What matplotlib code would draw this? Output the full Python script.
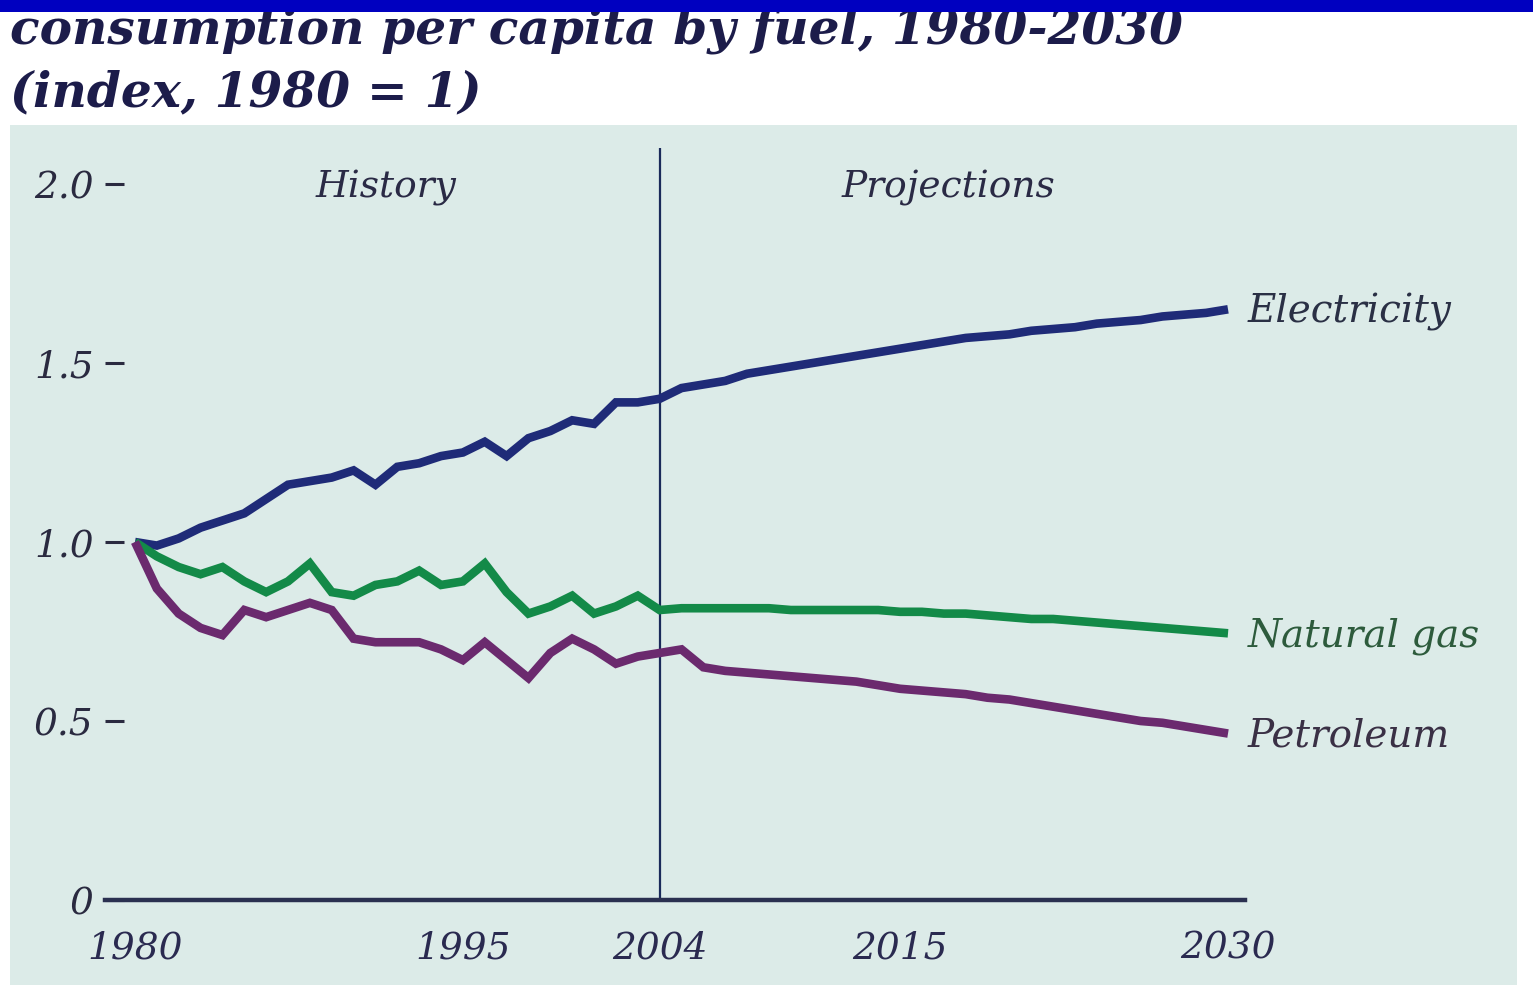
import matplotlib
matplotlib.use("Agg")
import matplotlib.pyplot as plt
from matplotlib.patches import Rectangle

# data: index, 1980 = 1
years = list(range(1980, 2031))

electricity = [1.00, 0.99, 1.01, 1.04, 1.06, 1.08, 1.12, 1.16, 1.17, 1.18,
               1.20, 1.16, 1.21, 1.22, 1.24, 1.25, 1.28, 1.24, 1.29, 1.31,
               1.34, 1.33, 1.39, 1.39, 1.40,
               1.43, 1.44, 1.45, 1.47, 1.48, 1.49, 1.50, 1.51, 1.52, 1.53,
               1.54, 1.55, 1.56, 1.57, 1.575, 1.58, 1.59, 1.595, 1.60, 1.61,
               1.615, 1.62, 1.63, 1.635, 1.64, 1.65]

natural_gas = [1.00, 0.96, 0.93, 0.91, 0.93, 0.89, 0.86, 0.89, 0.94, 0.86,
               0.85, 0.88, 0.89, 0.92, 0.88, 0.89, 0.94, 0.86, 0.80, 0.82,
               0.85, 0.80, 0.82, 0.85, 0.81,
               0.815, 0.815, 0.815, 0.815, 0.815, 0.81, 0.81, 0.81, 0.81, 0.81,
               0.805, 0.805, 0.80, 0.80, 0.795, 0.79, 0.785, 0.785, 0.78, 0.775,
               0.77, 0.765, 0.76, 0.755, 0.75, 0.745]

petroleum = [1.00, 0.87, 0.80, 0.76, 0.74, 0.81, 0.79, 0.81, 0.83, 0.81,
             0.73, 0.72, 0.72, 0.72, 0.70, 0.67, 0.72, 0.67, 0.62, 0.69,
             0.73, 0.70, 0.66, 0.68, 0.69,
             0.70, 0.65, 0.64, 0.635, 0.63, 0.625, 0.62, 0.615, 0.61, 0.60,
             0.59, 0.585, 0.58, 0.575, 0.565, 0.56, 0.55, 0.54, 0.53, 0.52,
             0.51, 0.50, 0.495, 0.485, 0.475, 0.465]

series = [("Electricity", electricity, "#1f2b78", "#2a3045"),
          ("Natural gas", natural_gas, "#138a48", "#2d5b3c"),
          ("Petroleum", petroleum, "#6b2a6e", "#3a3045")]

xticks = [1980, 1995, 2004, 2015, 2030]
yticks = [0, 0.5, 1.0, 1.5, 2.0]
ytick_labels = ["0", "0.5", "1.0", "1.5", "2.0"]

W, H = 1533, 996
fig = plt.figure(figsize=(W / 100, H / 100), dpi=100)
fig.patch.set_facecolor("white")

serif = "DejaVu Serif"
ink = "#1c1c4a"

# panel background
fig.patches.append(Rectangle((10 / W, 11 / H), 1507 / W, 860 / H,
                             transform=fig.transFigure, facecolor="#dcebe8",
                             edgecolor="none", zorder=-5))

# blue bar at top
fig.patches.append(Rectangle((0, 1 - 12 / H), 1, 12 / H,
                             transform=fig.transFigure, facecolor="#0000c0",
                             edgecolor="none", zorder=10))

# title
fig.text(10 / W, 1 - 44 / H, "consumption per capita by fuel, 1980-2030",
         fontsize=35, family=serif, style="italic", weight="bold",
         color=ink, va="baseline", ha="left", zorder=2)
fig.text(10 / W, 1 - 106 / H, "(index, 1980 = 1)",
         fontsize=35, family=serif, style="italic", weight="bold",
         color=ink, va="baseline", ha="left", zorder=2)

ax = fig.add_axes([105 / W, 96 / H, 1140 / W, 752 / H])
ax.set_facecolor("none")
ax.set_zorder(1)

x_left = 1980 - 30 / 21.875
x_right = 2030 + 17 / 21.875
ax.set_xlim(x_left, x_right)
ax.set_ylim(0, 752 / 358)

for name, vals, col, tcol in series:
    ax.plot(years, vals, color=col, lw=6.2, solid_joinstyle="miter",
            solid_capstyle="butt", zorder=3)
    ax.annotate(name, xy=(years[-1], vals[-1]), xytext=(14, -2),
                textcoords="offset points", ha="left", va="center",
                fontsize=28, family=serif, style="italic", color=tcol,
                annotation_clip=False)

ax.axvline(2004, color="#1a2a5a", lw=1.6, zorder=2)

ax.text(1991.5, 1.99, "History", ha="center", va="center", fontsize=27,
        family=serif, style="italic", color="#2a2a45")
ax.text(2017.2, 1.99, "Projections", ha="center", va="center", fontsize=27,
        family=serif, style="italic", color="#2a2a45")

for s in ["left", "top", "right"]:
    ax.spines[s].set_visible(False)
ax.spines["bottom"].set_color("#2a3050")
ax.spines["bottom"].set_linewidth(3.2)

ax.set_xticks(xticks)
ax.set_xticklabels([str(y) for y in xticks])
ax.set_yticks(yticks)
ax.set_yticklabels(ytick_labels)
ax.tick_params(axis="x", length=0, pad=22, labelsize=27, labelcolor="#2a2a50")
ax.tick_params(axis="y", direction="in", length=14, width=2.2,
               color="#2a2a40", pad=8, labelsize=27, labelcolor="#2a2a40")
for lab in ax.get_xticklabels() + ax.get_yticklabels():
    lab.set_family(serif)
    lab.set_style("italic")

fig.savefig("out.png", dpi=100)
